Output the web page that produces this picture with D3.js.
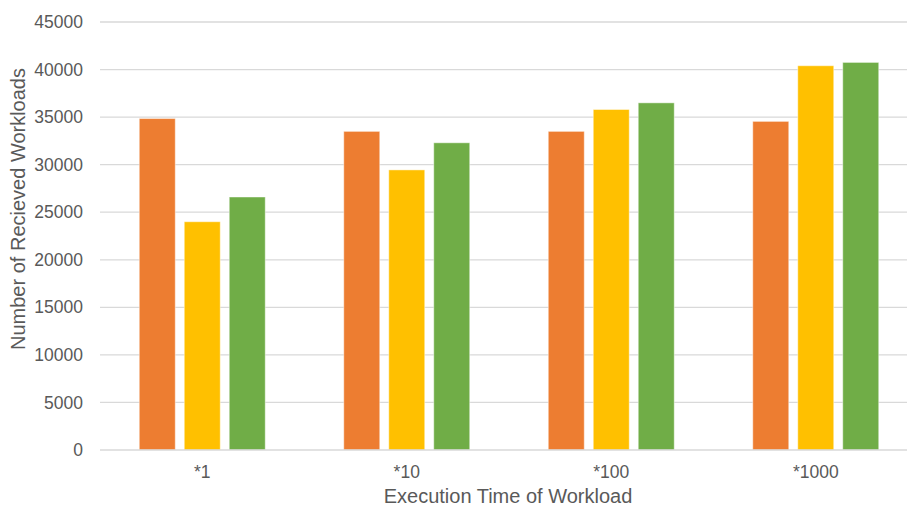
<!DOCTYPE html>
<html>
<head>
<meta charset="utf-8">
<script src="https://cdn.jsdelivr.net/npm/d3@7"></script>
<style>
  html, body { margin: 0; padding: 0; background: #fff; }
  svg { display: block; }
  text { font-family: "Liberation Sans", Arial, sans-serif; fill: #595959; }
</style>
</head>
<body>
<svg id="chart" width="907" height="508"></svg>
<script>
// Categories and series values
const categories = ["*1", "*10", "*100", "*1000"];
const seriesNames = ["A", "B", "C"];
const seriesA = [34850, 33500, 33500, 34550];
const seriesB = [24000, 29450, 35800, 40400];
const seriesC = [26600, 32300, 36500, 40750];
const yTicks = [0, 5000, 10000, 15000, 20000, 25000, 30000, 35000, 40000, 45000];
const colors = ["#ED7D31", "#FFC000", "#70AD47"];

const svg = d3.select("#chart");
const W = 907, H = 508;
const plot = { left: 100, right: 918, top: 22, bottom: 450 };

const rows = categories.map((c, i) => ({
  cat: c,
  values: [seriesA[i], seriesB[i], seriesC[i]]
}));

const x0 = d3.scaleBand()
  .domain(categories)
  .range([plot.left, plot.right])
  .paddingInner(0.384)
  .paddingOuter(0.192);

const x1 = d3.scaleBand()
  .domain(seriesNames)
  .range([0, x0.bandwidth()])
  .paddingInner(0.2)
  .paddingOuter(0);

const y = d3.scaleLinear()
  .domain([0, 45000])
  .range([plot.bottom, plot.top]);

// Horizontal gridlines
svg.append("g")
  .selectAll("line")
  .data(yTicks.filter(t => t > 0))
  .join("line")
  .attr("x1", plot.left)
  .attr("x2", W)
  .attr("y1", d => y(d))
  .attr("y2", d => y(d))
  .attr("stroke", "#d9d9d9")
  .attr("stroke-width", 1.3);

// Y axis labels
const yAxis = d3.axisLeft(y).tickValues(yTicks).tickFormat(d3.format("d")).tickSize(0).tickPadding(0);
const gy = svg.append("g")
  .attr("transform", `translate(${83},0)`)
  .call(yAxis);
gy.select(".domain").remove();
gy.selectAll("text")
  .attr("font-size", 17.5)
  .attr("font-family", "Liberation Sans, Arial, sans-serif")
  .attr("fill", "#595959");

// Bars
const groups = svg.append("g")
  .selectAll("g")
  .data(rows)
  .join("g")
  .attr("transform", d => `translate(${x0(d.cat)},0)`);

groups.selectAll("rect")
  .data(d => d.values.map((v, i) => ({ key: seriesNames[i], value: v, i })))
  .join("rect")
  .attr("x", d => x1(d.key))
  .attr("width", x1.bandwidth())
  .attr("y", d => y(d.value))
  .attr("height", d => y(0) - y(d.value))
  .attr("fill", d => colors[d.i])
  .attr("stroke", "#ffffff")
  .attr("stroke-opacity", 0.45)
  .attr("stroke-width", 1);

// Baseline
svg.append("line")
  .attr("x1", plot.left)
  .attr("x2", W)
  .attr("y1", y(0))
  .attr("y2", y(0))
  .attr("stroke", "#d9d9d9")
  .attr("stroke-width", 1.3);

// X axis labels
const xAxis = d3.axisBottom(x0).tickSize(0).tickPadding(0);
const gx = svg.append("g")
  .attr("transform", `translate(0,${plot.bottom})`)
  .call(xAxis);
gx.select(".domain").remove();
gx.selectAll("text")
  .attr("dy", null)
  .attr("y", 28)
  .attr("font-size", 17.5)
  .attr("font-family", "Liberation Sans, Arial, sans-serif")
  .attr("fill", "#595959");

// Axis titles
svg.append("text")
  .attr("x", 508)
  .attr("y", 503)
  .attr("text-anchor", "middle")
  .attr("font-size", 20)
  .text("Execution Time of Workload");

svg.append("text")
  .attr("transform", `translate(25,209) rotate(-90)`)
  .attr("text-anchor", "middle")
  .attr("font-size", 20)
  .text("Number of Recieved Workloads");
</script>
</body>
</html>
